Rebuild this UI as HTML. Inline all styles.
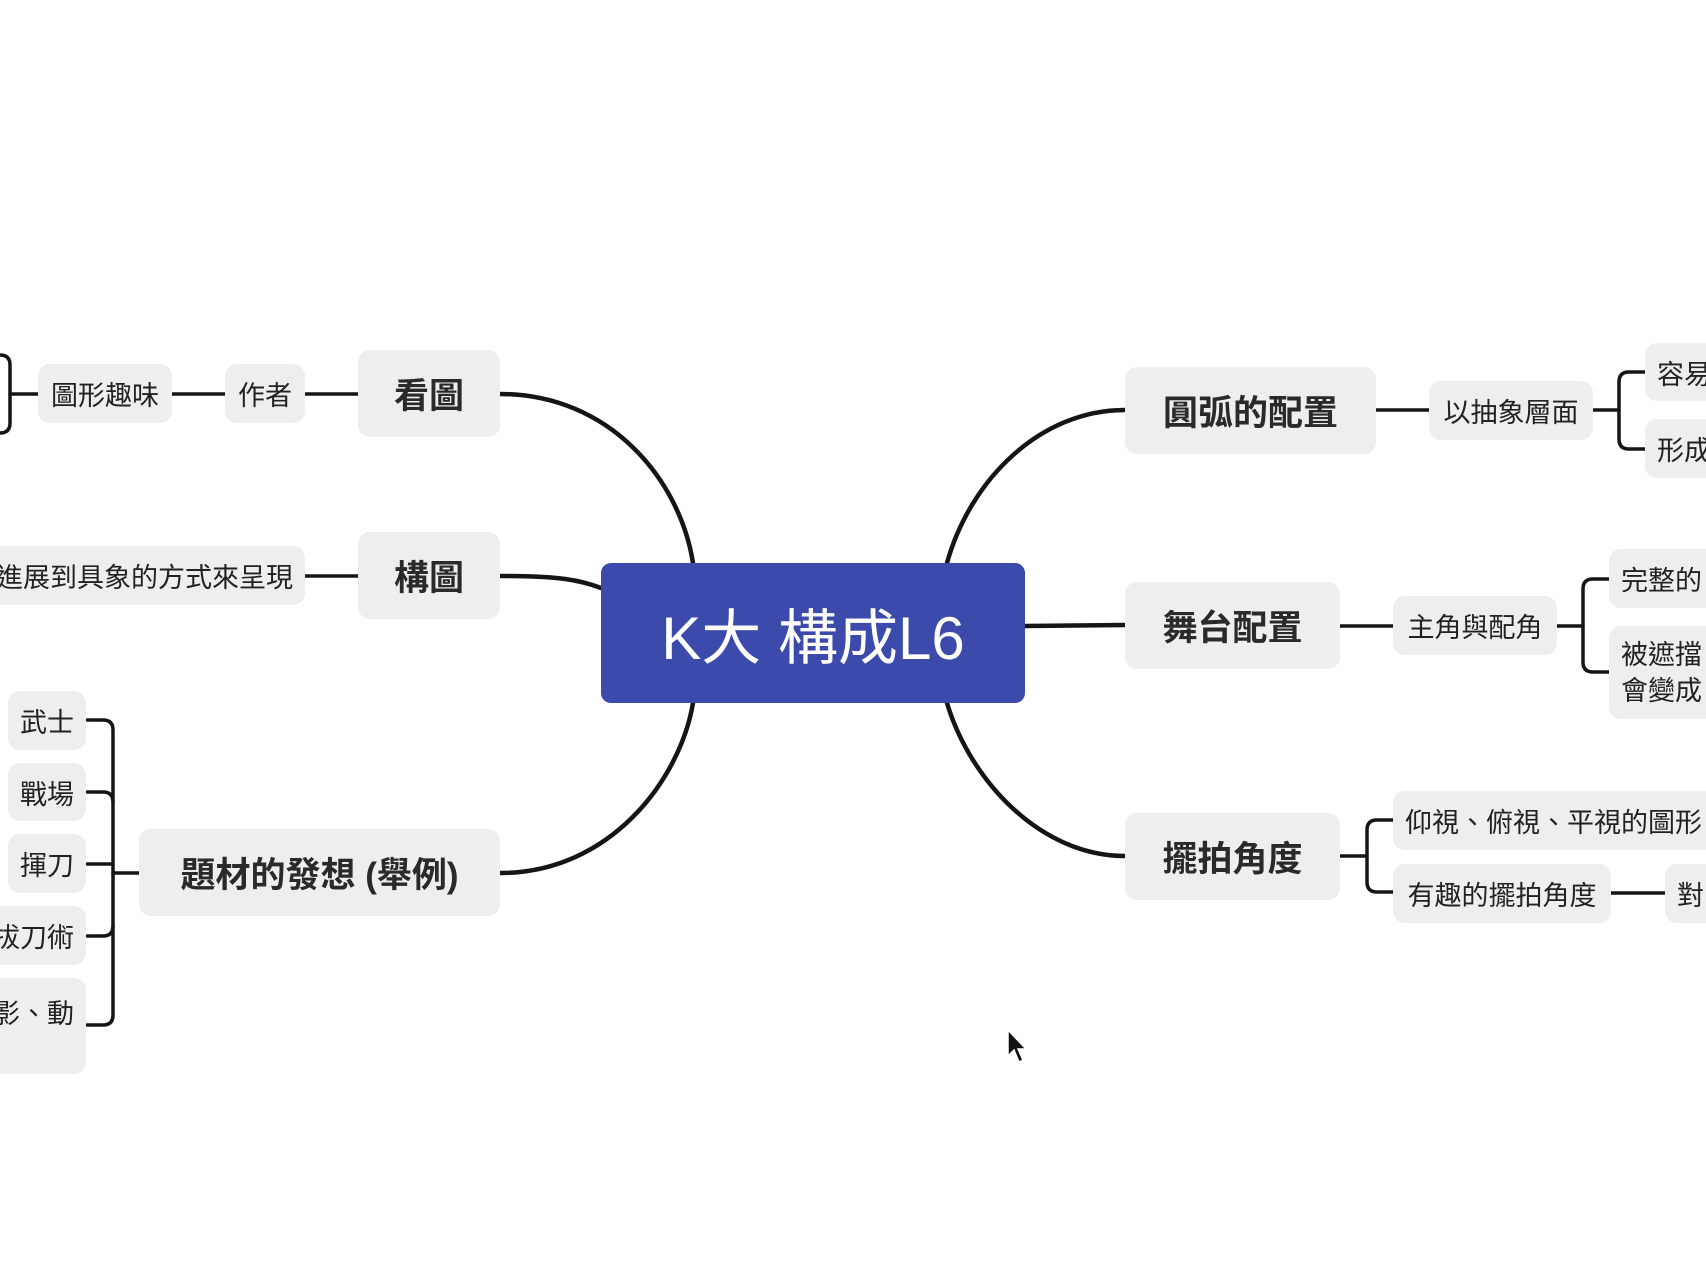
<!DOCTYPE html>
<html><head><meta charset="utf-8"><style>
body{margin:0;width:1706px;height:1265px;background:#fff;position:relative;overflow:hidden;font-family:"Liberation Sans","Noto Sans CJK TC",sans-serif;color:#222}
.b{position:absolute;background:#eeeeee;border-radius:12px;display:flex;align-items:center;justify-content:center;white-space:nowrap;box-sizing:border-box}
.m{font-size:35px;font-weight:bold;color:#2a2a2a}
.s{font-size:27px;padding:0 12px}
svg{position:absolute;left:0;top:0}
</style></head><body>
<svg width="1706" height="1265" fill="none" stroke="#151515" stroke-linecap="round">
<g stroke-width="4.5">
<path d="M500 394 C610 394 680 480 693 563"/>
<path d="M500 576 C560 576 580 580 601 588"/>
<path d="M500 873 C610 873 680 780 693 703"/>
<path d="M947 563 C970 480 1040 410 1125 410"/>
<path d="M1025 626 L1125 625"/>
<path d="M947 703 C970 780 1040 856 1125 856"/>
</g>
<g stroke-width="3.5">
<path d="M10 394 L38 394 M172 394 L225 394 M305 394 L358 394"/>
<path d="M305 576 L358 576"/>
<path d="M1376 410 L1429 410 M1593 410 L1619 410"/>
<path d="M1645 372 L1629 372 Q1619 372 1619 382 L1619 439 Q1619 449 1629 449 L1645 449"/>
<path d="M1340 626 L1393 626 M1557 626 L1583 626"/>
<path d="M1609 579 L1593 579 Q1583 579 1583 589 L1583 662 Q1583 672 1593 672 L1609 672"/>
<path d="M1340 856 L1367 856"/>
<path d="M1393 820 L1377 820 Q1367 820 1367 830 L1367 882 Q1367 892 1377 892 L1393 892"/>
<path d="M1611 893 L1665 893"/>
<path d="M139 873 L113 873"/>
<path d="M87 720 L103 720 Q113 720 113 730 L113 1015 Q113 1025 103 1025 L87 1025"/>
<path d="M87 792 L103 792 Q113 792 113 802 M87 864 L113 864 M87 936 L103 936 Q113 936 113 926"/>
<path d="M0 355 Q10 355 10 365 L10 423 Q10 433 0 433"/>
</g>
<path d="M1008 1030 L1008 1056 L1014 1050 L1019 1062 L1023 1060 L1018 1049 L1026 1049 Z" fill="#111" stroke="#fff" stroke-width="1.5"/>
</svg>
<div class="b" style="left:601px;top:563px;width:424px;height:140px;background:#3b4aab;border-radius:10px;color:#fff;font-size:60px">K大 構成L6</div>
<div class="b m" style="left:358px;top:350px;width:142px;height:87px">看圖</div>
<div class="b m" style="left:358px;top:532px;width:142px;height:87px">構圖</div>
<div class="b m" style="left:139px;top:829px;width:361px;height:87px">題材的發想 (舉例)</div>
<div class="b s" style="left:38px;top:364px;width:134px;height:59px">圖形趣味</div>
<div class="b s" style="left:225px;top:364px;width:80px;height:59px">作者</div>
<div class="b s" style="left:-60px;top:546px;width:365px;height:59px;justify-content:flex-end">進展到具象的方式來呈現</div>
<div class="b s" style="left:8px;top:691px;width:78px;height:59px">武士</div>
<div class="b s" style="left:8px;top:763px;width:78px;height:58px">戰場</div>
<div class="b s" style="left:8px;top:834px;width:78px;height:59px">揮刀</div>
<div class="b s" style="left:-40px;top:906px;width:126px;height:59px;justify-content:flex-end">拔刀術</div>
<div class="b s" style="left:-40px;top:978px;width:126px;height:96px;justify-content:flex-end;align-items:flex-start;padding-top:14px">影、動</div>
<div class="b m" style="left:1125px;top:367px;width:251px;height:87px">圓弧的配置</div>
<div class="b m" style="left:1125px;top:582px;width:215px;height:87px">舞台配置</div>
<div class="b m" style="left:1125px;top:813px;width:215px;height:87px">擺拍角度</div>
<div class="b s" style="left:1429px;top:381px;width:164px;height:59px">以抽象層面</div>
<div class="b s" style="left:1645px;top:343px;width:160px;height:58px;justify-content:flex-start">容易</div>
<div class="b s" style="left:1645px;top:419px;width:160px;height:59px;justify-content:flex-start">形成</div>
<div class="b s" style="left:1393px;top:596px;width:164px;height:59px">主角與配角</div>
<div class="b s" style="left:1609px;top:549px;width:190px;height:59px;justify-content:flex-start">完整的</div>
<div class="b s" style="left:1609px;top:626px;width:190px;height:93px;justify-content:flex-start;line-height:36px">被遮擋<br>會變成</div>
<div class="b s" style="left:1393px;top:791px;width:400px;height:59px;justify-content:flex-start">仰視、俯視、平視的圖形</div>
<div class="b s" style="left:1393px;top:864px;width:218px;height:59px">有趣的擺拍角度</div>
<div class="b s" style="left:1665px;top:864px;width:150px;height:59px;justify-content:flex-start">對</div>
</body></html>
